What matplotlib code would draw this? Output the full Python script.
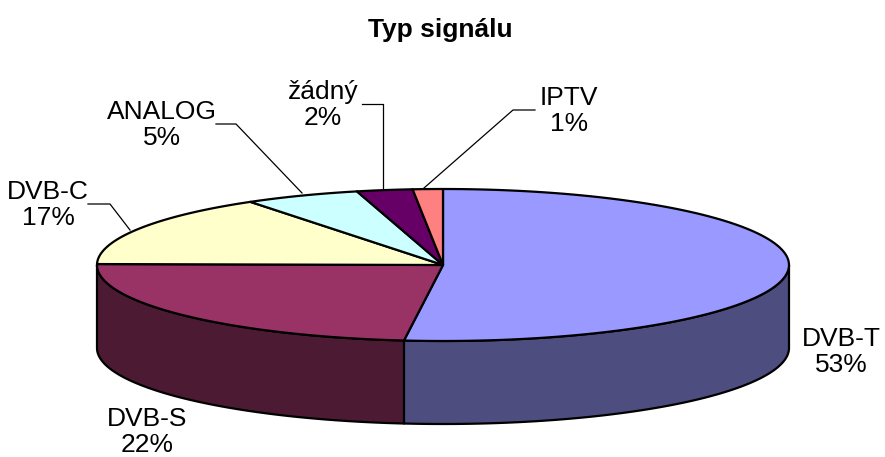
import numpy as np
import matplotlib
matplotlib.use('Agg')
import matplotlib.pyplot as plt

plt.rcParams['font.family'] = ['Liberation Sans', 'DejaVu Sans']

# shown labels
categories = ['DVB-T', 'DVB-S', 'DVB-C', 'ANALOG', 'žádný', 'IPTV']
percent_labels = ['53%', '22%', '17%', '5%', '2%', '1%']
# slice shares as measured on the drawing (perspective shifts them a bit)
shares = [51.8, 23.4, 15.4, 5.4, 2.6, 1.4]
top_colors = ['#9999FF', '#993366', '#FFFFCC', '#CCFFFF', '#660066', '#FF8080']
side_colors = ['#4D4D80', '#4D1A33', '#80805F', '#668080', '#330033', '#804040']

# label centre and leader line end points, in pixels
label_pos = [(841, 352), (147, 432), (48, 205), (162, 125), (323, 105), (569, 111)]
leaders = [None, None,
           [(88, 204), (110, 204), (130, 230)],
           [(216, 124), (236, 124), (302, 193)],
           [(362, 104), (383, 104), (383, 188)],
           [(535, 110), (513, 110), (424, 188)]]

cx, cy = 443, 265
rx, ry = 346, 76
depth = 83

fig = plt.figure(figsize=(8.85, 4.57), dpi=100)
ax = fig.add_axes([0, 0, 1, 1])
ax.set_xlim(0, 885)
ax.set_ylim(457, 0)
ax.axis('off')


def rim(a):
    # a in degrees clockwise from the top of the ellipse
    t = np.radians(a)
    return cx + rx * np.sin(t), cy - ry * np.cos(t)


edges = np.concatenate([[0], np.cumsum(shares)]) / np.sum(shares) * 360

# walls first, only the front half is visible
for i in range(len(shares)):
    a0 = max(edges[i], 90)
    a1 = min(edges[i + 1], 270)
    if a1 <= a0:
        continue
    a = np.linspace(a0, a1, 120)
    x, y = rim(a)
    xs = np.concatenate([x, x[::-1]])
    ys = np.concatenate([y, y[::-1] + depth])
    ax.fill(xs, ys, facecolor=side_colors[i], edgecolor='black', linewidth=1.6, joinstyle='round')

# top surface
for i in range(len(shares)):
    a = np.linspace(edges[i], edges[i + 1], 120)
    x, y = rim(a)
    xs = np.concatenate([[cx], x])
    ys = np.concatenate([[cy], y])
    ax.fill(xs, ys, facecolor=top_colors[i], edgecolor='black', linewidth=1.6, joinstyle='round')

for i, name in enumerate(categories):
    ax.text(label_pos[i][0], label_pos[i][1], name + '\n' + percent_labels[i],
            ha='center', va='center', fontsize=19, linespacing=1.12, color='black')
    if leaders[i] is not None:
        ax.plot([p[0] for p in leaders[i]], [p[1] for p in leaders[i]], color='black', linewidth=0.9)

ax.text(440, 30, 'Typ signálu', ha='center', va='center', fontsize=19, fontweight='bold')

fig.savefig('out.png', dpi=100)
